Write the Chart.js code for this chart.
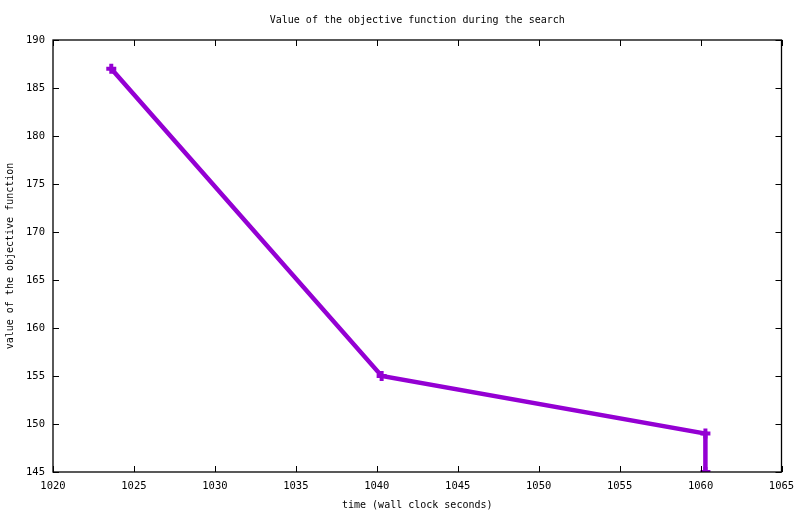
<!DOCTYPE html>
<html>
<head>
<meta charset="utf-8">
<script src="https://cdn.jsdelivr.net/npm/chart.js@4/dist/chart.umd.min.js"></script>
<style>
  html, body { margin: 0; padding: 0; background: #fff; }
  #wrap { width: 800px; height: 514px; }
</style>
</head>
<body>
<div id="wrap"><canvas id="c" width="800" height="514"></canvas></div>
<script>
const timeValues = [1023.6, 1040.3, 1060.3, 1060.3];
const objectiveValues = [187, 155, 149, 145];
const xTickRange = [1020, 1065, 5];
const yTickRange = [145, 190, 5];
const titleText = 'Value of the objective function during the search';
const xTitle = 'time (wall clock seconds)';
const yTitle = 'value of the objective function';

const FONT = { family: '"DejaVu Sans Mono", "Liberation Mono", monospace', size: 10, lineHeight: 1.2 };
const TICKFONT = { family: '"DejaVu Sans Mono", "Liberation Mono", monospace', size: 10.5, lineHeight: 1.2 };

const innerTicks = {
  id: 'innerTicks',
  afterDraw(chart) {
    const { ctx, chartArea: a, scales } = chart;
    const len = 6;
    ctx.save();
    ctx.strokeStyle = '#000';
    ctx.lineWidth = 1;
    ctx.beginPath();
    scales.x.ticks.forEach(t => {
      const px = Math.round(scales.x.getPixelForValue(t.value)) + 0.5;
      ctx.moveTo(px, a.bottom); ctx.lineTo(px, a.bottom - len);
      ctx.moveTo(px, a.top); ctx.lineTo(px, a.top + len);
    });
    scales.y.ticks.forEach(t => {
      const py = Math.round(scales.y.getPixelForValue(t.value)) + 0.5;
      ctx.moveTo(a.left, py); ctx.lineTo(a.left + len, py);
      ctx.moveTo(a.right, py); ctx.lineTo(a.right - len, py);
    });
    ctx.stroke();
    ctx.lineWidth = 1.3;
    ctx.strokeRect(a.left, a.top, a.right - a.left, a.bottom - a.top);
    ctx.restore();
  }
};

new Chart(document.getElementById('c'), {
  type: 'scatter',
  data: {
    datasets: [{
      data: timeValues.map((x, i) => ({ x, y: objectiveValues[i] })),
      showLine: true,
      borderColor: '#9400D3',
      backgroundColor: '#9400D3',
      borderWidth: 4.5,
      pointStyle: 'cross',
      pointRadius: 5,
      pointBorderWidth: 4,
      pointBorderColor: '#9400D3',
      tension: 0
    }]
  },
  options: {
    responsive: false,
    animation: false,
    devicePixelRatio: 1,
    layout: { padding: { top: 0, right: 18.5, left: 0, bottom: 0 } },
    plugins: {
      legend: { display: false },
      tooltip: { enabled: false },
      title: {
        display: true,
        fullSize: false,
        text: titleText,
        color: '#000',
        font: { ...FONT, weight: 'normal' },
        padding: { top: 14, bottom: 14 }
      }
    },
    scales: {
      x: {
        type: 'linear',
        min: xTickRange[0], max: xTickRange[1],
        ticks: { stepSize: xTickRange[2], color: '#000', font: TICKFONT, padding: 8, maxRotation: 0, autoSkip: false, callback: v => String(v) },
        grid: { display: false, drawTicks: false },
        border: { display: false },
        title: { display: true, text: xTitle, color: '#000', font: FONT, padding: { top: 0, bottom: 3 } },
        afterFit(s) { s.height = 42; s.paddingRight = 0; s.paddingLeft = 0; }
      },
      y: {
        type: 'linear',
        min: yTickRange[0], max: yTickRange[1],
        ticks: { stepSize: yTickRange[2], color: '#000', font: TICKFONT, padding: 8, autoSkip: false, callback: v => String(v) },
        grid: { display: false, drawTicks: false },
        border: { display: false },
        title: { display: true, text: yTitle, color: '#000', font: FONT, padding: { top: 4, bottom: 0 } },
        afterFit(s) { s.width = 53; s.paddingTop = 0; s.paddingBottom = 0; }
      }
    }
  },
  plugins: [innerTicks]
});
</script>
</body>
</html>
